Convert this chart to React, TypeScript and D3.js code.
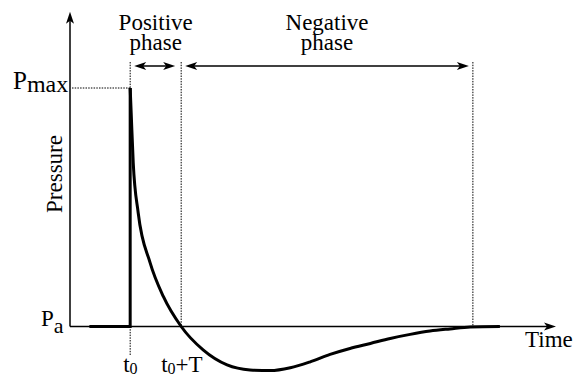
import React from "react";
import * as d3 from "d3";

// time in units of the positive-phase duration T (t0 = 0), pressure relative to Pmax (Pa = 0)
const pulseT = [-0.8, 0, 0];
const pulseP = [0, 0, 1];

const waveT = [0, 0.02, 0.06, 0.157, 0.39, 0.65, 1, 1.43, 1.9, 2.35, 2.75, 3.14, 3.53, 3.92, 4.31, 4.71, 5.1, 5.49, 5.88, 6.27, 6.67, 7.25];
const waveP = [1, 0.895, 0.686, 0.477, 0.268, 0.126, 0, -0.098, -0.161, -0.182, -0.185, -0.173, -0.148, -0.117, -0.092, -0.071, -0.05, -0.033, -0.019, -0.01, -0.002, 0];

const phaseBounds = [0, 1, 6.72]; // t0, t0+T, end of negative phase
const phaseTitles = [
  ["Positive", "phase"],
  ["Negative", "phase"],
];
const tickLabels = [
  { t: 0, dx: -7, main: "t", sub: "0", rest: "" },
  { t: 1, dx: -20, main: "t", sub: "0", rest: "+T" },
];

const W = 573;
const H = 377;
const FONT = "Liberation Serif";

// axis ends in data units
const tMin = -1.18;
const tMax = 8.35;
const pTop = 1.32;

function arrowHead(x: number, y: number, dir: "left" | "right" | "up") {
  const L = 12;
  const w = 4;
  const n = 3;
  if (dir === "up")
    return `M${x},${y} L${x - w},${y + L} L${x},${y + L - n} L${x + w},${y + L} Z`;
  const s = dir === "right" ? -1 : 1;
  return `M${x},${y} L${x + s * L},${y - w} L${x + s * (L - n)},${y} L${x + s * L},${y + w} Z`;
}

export default function App() {
  const x = d3.scaleLinear().domain([tMin, tMax]).range([70, 556]);
  const y = d3.scaleLinear().domain([0, 1]).range([326.5, 88]);

  const line = d3
    .line<number>()
    .x((_, i) => x(waveT[i]))
    .y((d) => y(d))
    .curve(d3.curveMonotoneX);

  const pulse = d3
    .line<number>()
    .x((_, i) => x(pulseT[i]))
    .y((d) => y(d));

  const x0 = x(phaseBounds[0]);
  const x1 = x(phaseBounds[1]);
  const x2 = x(phaseBounds[2]);
  const yA = 66; // phase arrows
  const yTopDot = 62;
  const txt = { fontFamily: FONT };

  return (
    <svg
      width={W}
      height={H}
      style={{ position: "absolute", left: 0, top: 0, background: "#fff" }}
    >
      {/* axes */}
      <line x1={x(tMin)} y1={y(0)} x2={x(tMax) - 6} y2={y(0)} stroke="#000" strokeWidth={1.5} />
      <path d={arrowHead(x(tMax), y(0), "right")} fill="#000" />
      <line x1={x(tMin)} y1={y(0)} x2={x(tMin)} y2={y(pTop) + 6} stroke="#000" strokeWidth={1.5} />
      <path d={arrowHead(x(tMin), y(pTop), "up")} fill="#000" />

      {/* dotted guides */}
      <g stroke="#000" strokeWidth={1} strokeDasharray="1.5,1.2" fill="none">
        <line x1={x(tMin) + 2} y1={y(1)} x2={x0} y2={y(1)} />
        <line x1={x0} y1={yTopDot} x2={x0} y2={y(1)} />
        <line x1={x0} y1={y(0)} x2={x0} y2={356} />
        <line x1={x1} y1={yTopDot} x2={x1} y2={y(0)} />
        <line x1={x2} y1={yTopDot} x2={x2} y2={y(0)} />
      </g>

      {/* phase arrows */}
      <g stroke="#000" strokeWidth={1.5}>
        <line x1={x0 + 8} y1={yA} x2={x1 - 10} y2={yA} />
        <line x1={x1 + 8} y1={yA} x2={x2 - 8} y2={yA} />
      </g>
      <g fill="#000">
        <path d={arrowHead(x0 + 4, yA, "left")} />
        <path d={arrowHead(x1 - 6, yA, "right")} />
        <path d={arrowHead(x1 + 4, yA, "left")} />
        <path d={arrowHead(x2 - 4, yA, "right")} />
      </g>

      {/* waveform */}
      <path d={pulse(pulseP) ?? ""} fill="none" stroke="#000" strokeWidth={3} strokeLinejoin="miter" />
      <path d={line(waveP) ?? ""} fill="none" stroke="#000" strokeWidth={3} />

      {/* phase titles, two tight lines in one text */}
      {phaseTitles.map((lines, i) => {
        const cx = (x(phaseBounds[i]) + x(phaseBounds[i + 1])) / 2;
        return (
          <text key={i} textAnchor="middle" fontSize={23} style={txt}>
            <tspan x={cx} y={30}>{lines[0]}</tspan>
            <tspan x={cx} y={50}>{lines[1]}</tspan>
          </text>
        );
      })}

      {/* y labels */}
      <text x={13} y={y(1) + 1} fontSize={25} style={txt}>
        P<tspan dy={3} fontSize={24}>max</tspan>
      </text>
      <text x={41} y={y(0) - 1} fontSize={23} style={txt}>
        P<tspan dy={7} fontSize={22}>a</tspan>
      </text>
      <text
        transform={`translate(62,${174}) rotate(-90)`}
        textAnchor="middle"
        fontSize={23}
        style={txt}
      >
        Pressure
      </text>

      {/* x labels */}
      {tickLabels.map((d, i) => (
        <text key={i} x={x(d.t) + d.dx} y={372} fontSize={23} style={txt}>
          {d.main}
          <tspan dy={2} fontSize={16}>{d.sub}</tspan>
          <tspan dy={-2}>{d.rest}</tspan>
        </text>
      ))}
      <text x={525} y={347} fontSize={23} style={txt}>
        Time
      </text>
    </svg>
  );
}
